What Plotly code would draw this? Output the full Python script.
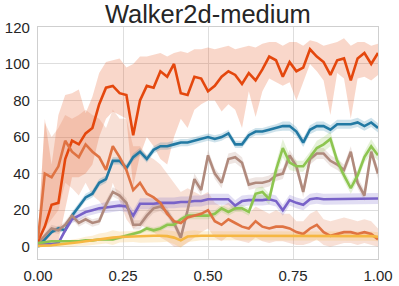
import plotly.graph_objects as go

# common x grid (fraction of training)
x = [round(i * 0.02, 2) for i in range(51)]

# ---- series means ----
red = [3, 11, 23, 24, 48, 58, 56, 62, 65, 78, 87, 88, 84, 83, 61, 80, 88, 87, 96, 93,
       100, 84, 83, 93, 92, 85, 88, 93, 96, 94, 89, 95, 91, 97, 104, 102, 93, 101, 96, 98,
       108, 104, 101, 94, 102, 103, 91, 103, 106, 100, 106]
red_lo = [0, 0, 0, 3, 20, 38, 38, 40, 45, 60, 70, 74, 72, 70, 33, 50, 60, 55, 48, 45,
          60, 70, 65, 75, 78, 80, 80, 74, 78, 75, 65, 85, 71, 85, 92, 90, 88, 90, 80, 90,
          100, 96, 91, 72, 95, 92, 70, 92, 93, 91, 94]
red_hi = [5, 70, 45, 72, 83, 84, 86, 73, 82, 95, 101, 102, 103, 98, 100, 104, 104, 105, 106, 104,
          106, 107, 106, 108, 108, 109, 108, 109, 110, 108, 109, 110, 109, 111, 112, 112, 110, 112, 112, 110,
          113, 112, 110, 111, 112, 114, 110, 112, 112, 110, 111]

orange = [4, 40, 38, 44, 58, 52, 49, 56, 52, 49, 42, 55, 49, 42, 31, 35, 29, 27, 24, 18,
          14, 13, 16, 17, 18, 20, 14, 12, 15, 13, 11, 10, 14, 11, 10, 11, 11, 10, 8, 7,
          10, 12, 8, 6, 7, 8, 8, 7, 8, 7, 4]
orange_lo = [0, 10, 15, 20, 35, 32, 28, 35, 28, 25, 20, 35, 25, 15, 10, 12, 10, 8, 5, 3,
             0, 0, 2, 5, 8, 10, 5, 3, 6, 4, 3, 2, 5, 3, 2, 3, 3, 2, 1, 1,
             2, 4, 1, 0, 1, 2, 2, 1, 2, 1, 0]
orange_hi = [8, 68, 60, 65, 72, 70, 72, 75, 72, 70, 65, 75, 70, 70, 55, 55, 50, 48, 45, 40,
             35, 30, 32, 30, 28, 30, 24, 22, 24, 22, 20, 18, 22, 20, 18, 20, 18, 18, 14, 14,
             18, 20, 15, 14, 15, 16, 15, 14, 15, 14, 10]

blue = [0, 4, 8, 10, 9, 17, 22, 27, 29, 35, 37, 47, 47, 43, 49, 52, 48, 53, 55, 55,
        56, 57, 57, 58, 59, 60, 59, 60, 62, 56, 56, 61, 63, 63, 64, 65, 66, 66, 63, 57,
        64, 66, 66, 64, 67, 67, 67, 68, 66, 68, 65]
blue_sd = [0.5, 1, 1, 1.5, 1.5, 2, 2, 2, 2, 2, 2, 2, 2, 2, 2, 2, 2, 2, 2, 2,
           2, 2, 2, 2, 2, 2, 2, 2, 2, 2, 2, 2, 2, 2, 2, 2, 2.5, 2.5, 2.5, 2.5,
           2.5, 2.5, 2.5, 2.5, 2.5, 2.5, 2.5, 2.5, 2.5, 2.5, 2.5]

brown = [2, 6, 10, 9, 12, 17, 13, 15, 13, 14, 23, 30, 28, 24, 12, 12, 17, 21, 22, 19,
         13, 5, 20, 37, 31, 50, 40, 35, 48, 49, 46, 34, 35, 35, 36, 39, 40, 50, 44, 30,
         48, 51, 51, 47, 45, 42, 52, 35, 28, 52, 40]
brown_sd = [1, 1.5, 2, 2, 2, 2, 2, 2, 2, 2, 2.5, 2.5, 2.5, 2.5, 2.5, 2.5, 2.5, 2.5, 2.5, 2.5,
            2.5, 2.5, 2.5, 3, 3, 3, 3, 3, 3, 3, 3, 3, 3, 3, 3, 3, 3, 3, 3, 3,
            3, 3, 3, 3, 3, 3, 3, 3, 3, 3, 3]

green = [2, 2.5, 3, 3, 3, 3, 3, 3.5, 3.5, 4, 4, 4, 5, 6, 7, 8, 10, 9, 10, 12,
         12, 15, 17, 17, 17, 17, 18, 21, 19, 21, 21, 19, 29, 30, 26, 42, 54, 46, 44, 44,
         49, 54, 56, 59, 47, 39, 32, 39, 49, 55, 50]
green_sd = [0.5, 0.5, 0.5, 0.5, 0.5, 0.5, 0.5, 0.5, 0.5, 0.5, 0.5, 0.8, 1, 1, 1, 1, 1.5, 1.5, 1.5, 1.5,
            1.5, 1.5, 2, 2, 2, 2, 2, 2, 2, 2, 2, 2, 3, 3, 3, 4, 5, 4, 3, 3,
            3, 4, 4, 4, 3, 3, 3, 3, 3, 4, 3]

purple = [1, 1.5, 1.5, 2, 9, 15, 17, 19, 20, 21, 21.5, 22, 22.5, 22, 17, 23.5, 23.5, 23.5, 24, 24,
          24, 24.5, 24.5, 25, 25, 26, 26, 26, 26, 22.5, 25, 25.5, 25.5, 25.5, 26, 25, 20, 25.5, 24, 23,
          26, 26.5, 26, 26, 26, 26, 26.3, 26.3, 26.4, 26.4, 26.4]
purple_sd = [0.5, 0.5, 0.5, 0.5, 1.5, 2, 2.5, 2.5, 2.5, 2.5, 3, 3, 3, 3, 3, 3, 3, 3, 3, 3,
             3, 3, 3, 3, 3, 3, 3, 3, 3, 3, 3, 3, 3, 3, 3, 3, 3, 3, 3, 3,
             3, 3, 3, 3, 3, 3, 3, 3, 3, 3, 3]

yellow = [0.5, 0.5, 0.8, 1.2, 1.5, 2, 2.5, 3, 3.5, 4.3, 4.8, 5, 5.3, 5.5, 5.6, 5.7, 5.8, 6, 6, 5.8,
          5, 3.5, 5.6, 6, 6, 6, 6, 6, 6, 6, 6, 6, 6, 6, 6, 6, 6, 6, 6, 6,
          6, 6, 6, 6, 6, 6, 6, 6, 6, 5.8, 5.5]
yellow_sd = [0.5, 0.5, 1, 1, 1.5, 2, 2, 2.5, 2.5, 3, 3, 4, 3, 3, 3, 3.5, 3.5, 4, 3.5, 3,
             3.5, 4, 3, 3, 2.5, 2.5, 2.5, 2.5, 2.5, 2.5, 2.5, 2.5, 2.5, 2.5, 2.5, 2.5, 2.5, 2.5, 2.5, 2.5,
             2.5, 2.5, 2.5, 2.5, 2.5, 2.5, 2.5, 2.5, 2.5, 2.5, 2.5]

x_ticks = [0.0, 0.25, 0.5, 0.75, 1.0]
x_tick_text = ["0.00", "0.25", "0.50", "0.75", "1.00"]
y_ticks = [0, 20, 40, 60, 80, 100, 120]

colors = {
    "red": "#e4470d", "orange": "#df7343", "blue": "#2279a3", "brown": "#b08a7d",
    "green": "#8dc550", "purple": "#7862c8", "yellow": "#f6b742",
}


def rgba(hexc, a):
    h = hexc.lstrip("#")
    return "rgba(%d,%d,%d,%.2f)" % (int(h[0:2], 16), int(h[2:4], 16), int(h[4:6], 16), a)


series = [
    ("red", red, red_lo, red_hi),
    ("orange", orange, orange_lo, orange_hi),
    ("blue", blue, [m - s for m, s in zip(blue, blue_sd)], [m + s for m, s in zip(blue, blue_sd)]),
    ("purple", purple, [m - s for m, s in zip(purple, purple_sd)], [m + s for m, s in zip(purple, purple_sd)]),
    ("brown", brown, [m - s for m, s in zip(brown, brown_sd)], [m + s for m, s in zip(brown, brown_sd)]),
    ("green", green, [m - s for m, s in zip(green, green_sd)], [m + s for m, s in zip(green, green_sd)]),
    ("yellow", yellow, [m - s for m, s in zip(yellow, yellow_sd)], [m + s for m, s in zip(yellow, yellow_sd)]),
]

fig = go.Figure()
for name, m, lo, hi in series:
    fig.add_trace(go.Scatter(x=x, y=lo, mode="lines", line=dict(width=0), showlegend=False, hoverinfo="skip"))
    fig.add_trace(go.Scatter(x=x, y=hi, mode="lines", line=dict(width=0), fill="tonexty",
                             fillcolor=rgba(colors[name], 0.22), showlegend=False, hoverinfo="skip"))

line_order = ["blue", "purple", "brown", "green", "red", "orange", "yellow"]
lookup = {s[0]: s for s in series}
for name in line_order:
    _, m, lo, hi = lookup[name]
    fig.add_trace(go.Scatter(x=x, y=m, mode="lines", line=dict(color=colors[name], width=2.6),
                             showlegend=False, name=name))

fig.update_layout(
    width=399, height=286,
    margin=dict(l=38, r=21, t=27, b=27, autoexpand=False),
    paper_bgcolor="white", plot_bgcolor="white",
    font=dict(family="Liberation Sans, Arial, sans-serif", size=15, color="#262626"),
    title=dict(text="Walker2d-medium", x=0.521, xanchor="center", y=0.95, yanchor="middle",
               font=dict(size=25.5, color="#262626")),
    showlegend=False,
)
fig.update_xaxes(range=[0, 1], tickvals=x_ticks, ticktext=x_tick_text, showgrid=True,
                 gridcolor="#dedede", gridwidth=1, showline=True, linecolor="#cfcfcf", linewidth=1.2,
                 mirror=True, zeroline=False, ticks="", ticklen=0, automargin=False,
                 ticklabelstandoff=3)
fig.update_yaxes(range=[-6.7, 120.2], tickvals=y_ticks, showgrid=True,
                 gridcolor="#dedede", gridwidth=1, showline=True, linecolor="#cfcfcf", linewidth=1.2,
                 mirror=True, zeroline=False, ticks="", ticklen=0, automargin=False,
                 ticklabelstandoff=4)

fig.write_html(
    "out.html",
    config={"displayModeBar": False},
    post_script="document.body.style.margin='0';document.body.style.padding='0';"
                "document.body.style.overflow='hidden';",
)
